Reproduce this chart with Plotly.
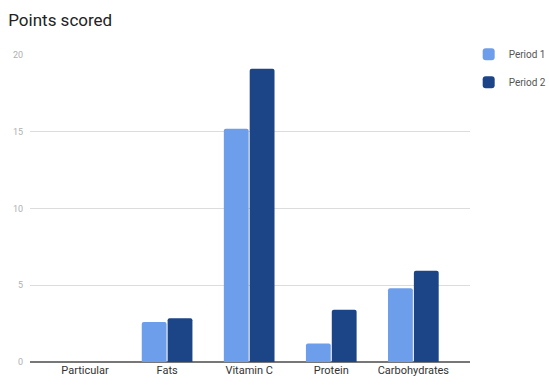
import plotly.graph_objects as go

categories = ["Particular", "Fats", "Vitamin C", "Protein", "Carbohydrates"]
period_1 = [None, 2.6, 15.2, 1.2, 4.8]
period_2 = [None, 2.85, 19.1, 3.4, 5.95]
y_ticks = [0, 5, 10, 15, 20]

fig = go.Figure()
fig.add_trace(go.Bar(name="Period 1", x=categories, y=period_1, legendgroup="p1",
                     marker=dict(color="#6d9eeb", cornerradius=2, line=dict(width=0))))
fig.add_trace(go.Bar(name="Period 2", x=categories, y=period_2, legendgroup="p2",
                     marker=dict(color="#1c4587", cornerradius=2, line=dict(width=0))))

fig.update_layout(
    width=549, height=386,
    margin=dict(l=30, r=79, t=55, b=24, autoexpand=False),
    paper_bgcolor="white", plot_bgcolor="white",
    font=dict(family="Roboto", color="#333"),
    title=dict(text="Points scored", x=0.015, xanchor="left", y=0.948, yanchor="middle",
               font=dict(size=17, color="#222")),
    barmode="group", bargap=0.37, bargroupgap=0.04,
    legend=dict(x=0.997, y=1.05, xanchor="left", yanchor="top",
                font=dict(size=10, color="#555"), itemwidth=30, tracegroupgap=9),
    showlegend=True,
)
fig.update_xaxes(range=[-0.67, 4.69], showgrid=False, showline=False, ticks="",
                 tickfont=dict(size=11, color="#333"))
fig.update_yaxes(range=[0, 20], tickvals=y_ticks, showgrid=True, gridcolor="#dcdcdc",
                 gridwidth=1, zeroline=True, zerolinecolor="#777", zerolinewidth=1.5,
                 showline=False, ticks="", ticklabelstandoff=6,
                 tickfont=dict(size=9, color="#b0b0b0"))

fig.write_html("out.html")
